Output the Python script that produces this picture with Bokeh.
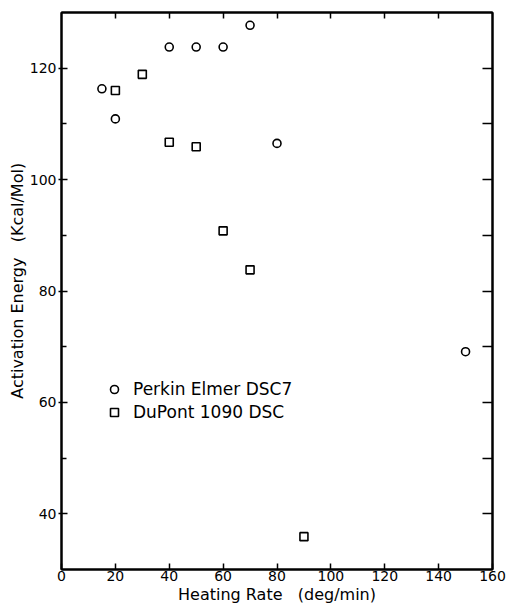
from bokeh.plotting import figure
from bokeh.models import (Range1d, LinearAxis, FixedTicker, Legend, LegendItem,
                          ColumnDataSource)
from bokeh.embed import file_html
from bokeh.resources import INLINE

# Activation energy vs heating rate for two DSC instruments
rates_pe = [15, 20, 40, 50, 60, 70, 80, 150]
energy_pe = [116.3, 110.9, 123.8, 123.8, 123.8, 127.7, 106.5, 69.1]

rates_dp = [20, 30, 40, 50, 60, 70, 90]
energy_dp = [116.0, 118.9, 106.7, 105.9, 90.8, 83.8, 35.9]

x_ticks = [0, 20, 40, 60, 80, 100, 120, 140, 160]
y_ticks = [40, 60, 80, 100, 120]
y_minor = [50, 70, 90, 110]
right_ticks = [40, 50, 60, 70, 80, 90, 100, 110, 120]

FONT = "DejaVu Sans"
FS_TICK = "14px"
FS_LABEL = "16px"
FS_LEGEND = "17px"
NB = "\u00a0"

p = figure(width=509, height=607, x_range=Range1d(0, 160), y_range=Range1d(30, 130),
           output_backend="svg", toolbar_location=None,
           min_border_left=61, min_border_right=17, min_border_top=12, min_border_bottom=38)
p.grid.visible = False
p.outline_line_color = "black"
p.outline_line_width = 2
p.background_fill_color = "white"
p.border_fill_color = "white"

# bottom axis
xa = p.xaxis[0]
xa.ticker = FixedTicker(ticks=x_ticks)
xa.major_tick_in = 6
xa.major_tick_out = 0
xa.minor_tick_line_color = None
xa.axis_line_width = 2
xa.major_tick_line_width = 1.5
xa.major_label_text_font = FONT
xa.major_label_text_font_size = FS_TICK
xa.major_label_text_color = "black"
xa.major_label_standoff = 1
xa.axis_label = "Heating Rate" + NB * 3 + "(deg/min)"
xa.axis_label_text_font = FONT
xa.axis_label_text_font_size = FS_LABEL
xa.axis_label_text_font_style = "normal"
xa.axis_label_text_color = "black"
xa.axis_label_standoff = 1

# left axis; leading spaces nudge the vertical title slightly upward
ya = p.yaxis[0]
ya.ticker = FixedTicker(ticks=y_ticks, minor_ticks=y_minor)
ya.major_tick_in = 6
ya.major_tick_out = 3
ya.minor_tick_in = 5
ya.minor_tick_out = 0
ya.axis_line_width = 2
ya.major_tick_line_width = 1.5
ya.minor_tick_line_width = 1.5
ya.major_label_text_font = FONT
ya.major_label_text_font_size = FS_TICK
ya.major_label_text_color = "black"
ya.major_label_standoff = 2
ya.axis_label = NB * 4 + "Activation Energy" + NB * 3 + "(Kcal/Mol)"
ya.axis_label_text_font = FONT
ya.axis_label_text_font_size = FS_LABEL
ya.axis_label_text_font_style = "normal"
ya.axis_label_text_color = "black"
ya.axis_label_standoff = 0

# top and right axes carry inward ticks only
top = LinearAxis(ticker=FixedTicker(ticks=x_ticks[1:-1]), major_tick_in=6, major_tick_out=0,
                 minor_tick_line_color=None,
                 major_label_overrides={t: "" for t in x_ticks[1:-1]},
                 axis_line_width=2, major_tick_line_width=1.5, major_label_standoff=0)
p.add_layout(top, "above")
right = LinearAxis(ticker=FixedTicker(ticks=right_ticks),
                   major_tick_in=10, major_tick_out=0, minor_tick_line_color=None,
                   major_label_overrides={t: "" for t in right_ticks}, axis_line_width=2,
                   major_tick_line_width=1.5, major_label_standoff=0)
p.add_layout(right, "right")

src_pe = ColumnDataSource(dict(x=rates_pe, y=energy_pe))
src_dp = ColumnDataSource(dict(x=rates_dp, y=energy_dp))
r_pe = p.scatter("x", "y", source=src_pe, marker="circle", size=8, fill_color=None,
                 line_color="black", line_width=1.6)
r_dp = p.scatter("x", "y", source=src_dp, marker="square", size=8, fill_color=None,
                 line_color="black", line_width=1.6)

legend = Legend(items=[LegendItem(label="Perkin Elmer DSC7", renderers=[r_pe]),
                       LegendItem(label="DuPont 1090 DSC", renderers=[r_dp])],
                location=(43, 147), border_line_color=None, background_fill_alpha=0,
                padding=0, margin=0, spacing=3, glyph_width=20, glyph_height=20,
                label_standoff=9, label_text_font=FONT, label_text_font_size=FS_LEGEND,
                label_text_color="black", label_height=20)
p.add_layout(legend)

open("out.html", "w").write(file_html(p, INLINE))
